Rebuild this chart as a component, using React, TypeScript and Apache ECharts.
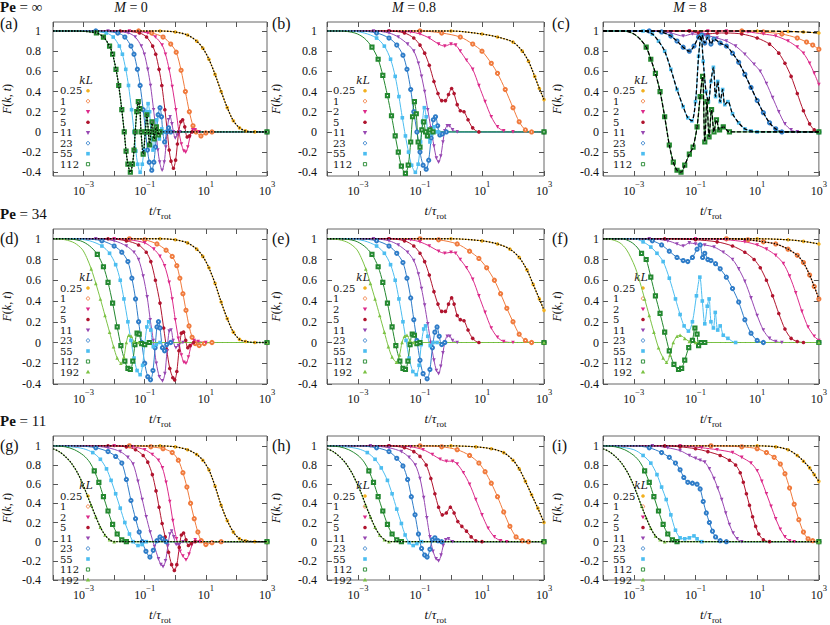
import React, { useEffect, useRef } from 'react';
import * as echarts from 'echarts';

type Pts = number[][];

// ---------- categories & series styles ----------
const kL = ['0.25', '1', '2', '5', '11', '23', '55', '112', '192'];
const colors = ['#f2b01e', '#f07a3c', '#dc2a8a', '#b0142e', '#9747b2', '#2e7cc8', '#4cbdf0', '#23882f', '#7cc244'];
const symbols = ['circle', 'emptyCircle', 'triangle', 'circle', 'triangle', 'emptyCircle', 'rect', 'emptyRect', 'triangle'];
const symbolRot = [0, 0, 180, 0, 180, 0, 0, 0, 0];

const rowTitles = ['∞', '34', '11'];
const colTitles = ['0', '0.8', '8'];
const letters = ['(a)', '(b)', '(c)', '(d)', '(e)', '(f)', '(g)', '(h)', '(i)'];
const yTickValues = [-0.4, -0.2, 0, 0.2, 0.4, 0.6, 0.8, 1];

// ---------- data: [log10(t/tau_rot), F(k,t)] ----------
// (a) Pe = inf, M = 0
const a025: Pts = [[-4,1],[-0.5,1],[0,0.99],[0.4,0.96],[0.7,0.9],[0.9,0.83],[1.1,0.72],[1.3,0.57],[1.5,0.4],[1.7,0.24],[1.9,0.11],[2.1,0.04],[2.3,0.01],[2.6,0],[3,0]];
const a1: Pts = [[-4,1],[-1.2,1],[-0.77,0.98],[-0.4,0.94],[-0.15,0.87],[0.03,0.79],[0.19,0.61],[0.33,0.4],[0.46,0.2],[0.58,0.06],[0.68,0],[0.84,-0.04],[1.0,-0.01],[1.2,0],[3,0]];
const a2: Pts = [[-4,1],[-1.5,1],[-0.9,0.98],[-0.65,0.94],[-0.43,0.86],[-0.32,0.77],[-0.2,0.62],[-0.1,0.45],[0.02,0.22],[0.12,0],[0.2,-0.12],[0.28,-0.19],[0.34,-0.2],[0.41,-0.15],[0.48,-0.05],[0.57,0.02],[0.65,0.02],[0.78,0],[3,0]];
const a5: Pts = [[-4,1],[-1.8,1],[-1.17,0.98],[-0.94,0.94],[-0.74,0.85],[-0.64,0.77],[-0.53,0.62],[-0.44,0.46],[-0.34,0.22],[-0.26,0],[-0.2,-0.18],[-0.14,-0.29],[-0.06,-0.36],[0.01,-0.28],[0.07,-0.12],[0.11,0],[0.18,0.1],[0.24,0.12],[0.31,0.05],[0.39,-0.05],[0.46,-0.04],[0.55,0],[3,0]];
const a11: Pts = [[-4,1],[-2.2,1],[-1.54,0.98],[-1.31,0.94],[-1.11,0.85],[-1.01,0.77],[-0.9,0.62],[-0.81,0.46],[-0.71,0.22],[-0.63,0],[-0.57,-0.18],[-0.51,-0.3],[-0.43,-0.38],[-0.36,-0.3],[-0.31,-0.15],[-0.27,0],[-0.22,0.12],[-0.17,0.15],[-0.11,0.08],[-0.06,0],[0,-0.06],[0.06,-0.03],[0.15,0],[3,0]];
const a23: Pts = [[-4,1],[-2.6,1],[-1.88,0.98],[-1.65,0.94],[-1.45,0.85],[-1.35,0.77],[-1.24,0.62],[-1.15,0.46],[-1.05,0.22],[-0.97,0],[-0.91,-0.18],[-0.85,-0.3],[-0.77,-0.38],[-0.7,-0.3],[-0.65,-0.15],[-0.61,0],[-0.56,0.17],[-0.5,0.24],[-0.45,0.15],[-0.41,0],[-0.35,-0.1],[-0.28,0],[-0.22,0.04],[-0.15,0],[3,0]];
const a55: Pts = [[-4,1],[-3,1],[-2.26,0.98],[-2.03,0.94],[-1.83,0.85],[-1.73,0.77],[-1.62,0.62],[-1.53,0.46],[-1.43,0.22],[-1.35,0],[-1.29,-0.19],[-1.23,-0.32],[-1.15,-0.4],[-1.08,-0.32],[-1.03,-0.18],[-0.99,0],[-0.94,0.2],[-0.89,0.28],[-0.84,0.2],[-0.8,0],[-0.73,-0.18],[-0.66,0],[-0.61,0.12],[-0.56,0],[-0.52,-0.07],[-0.48,0],[-0.44,0.03],[-0.38,0],[3,0]];
const a112: Pts = [[-4,1],[-3.3,1],[-2.58,0.98],[-2.35,0.94],[-2.15,0.85],[-2.05,0.77],[-1.94,0.62],[-1.85,0.46],[-1.75,0.22],[-1.67,0],[-1.61,-0.19],[-1.55,-0.32],[-1.47,-0.4],[-1.4,-0.32],[-1.35,-0.18],[-1.31,0],[-1.26,0.2],[-1.21,0.3],[-1.16,0.23],[-1.12,0],[-1.05,-0.22],[-0.98,0],[-0.93,0.17],[-0.88,0],[-0.84,-0.13],[-0.8,0],[-0.76,0.1],[-0.72,0],[-0.69,-0.07],[-0.66,0],[-0.62,0.05],[-0.58,0],[-0.55,-0.03],[-0.5,0],[3,0]];

// (b) Pe = inf, M = 0.8
const b025: Pts = [[-4,1],[0,1],[1,0.97],[1.5,0.94],[2,0.89],[2.3,0.8],[2.5,0.7],[2.7,0.55],[2.85,0.43],[3,0.32]];
const b1: Pts = [[-4,1],[-1,1],[-0.3,0.98],[0.3,0.94],[0.7,0.87],[1,0.8],[1.3,0.68],[1.5,0.58],[1.75,0.42],[2,0.24],[2.2,0.1],[2.4,0.02],[2.6,0],[3,0]];
const b2: Pts = [[-4,1],[-2,1],[-1.3,0.99],[-1,0.97],[-0.7,0.93],[-0.4,0.87],[-0.2,0.85],[0,0.87],[0.15,0.86],[0.3,0.8],[0.5,0.71],[0.7,0.62],[0.9,0.46],[1.1,0.3],[1.3,0.15],[1.5,0.05],[1.7,0.01],[2,0],[3,0]];
const b5: Pts = [[-4,1],[-2,1],[-1.5,0.98],[-1.2,0.93],[-1,0.86],[-0.85,0.78],[-0.7,0.66],[-0.55,0.5],[-0.42,0.38],[-0.3,0.31],[-0.18,0.31],[-0.08,0.37],[0.02,0.43],[0.1,0.38],[0.2,0.27],[0.3,0.21],[0.42,0.2],[0.55,0.12],[0.7,0.04],[0.9,0],[3,0]];
const b11: Pts = [[-4,1],[-2.5,1],[-2,0.98],[-1.7,0.94],[-1.4,0.87],[-1.2,0.8],[-1.05,0.68],[-0.95,0.55],[-0.85,0.4],[-0.75,0.22],[-0.65,0.04],[-0.55,-0.14],[-0.47,-0.26],[-0.4,-0.3],[-0.33,-0.24],[-0.26,-0.1],[-0.2,0.01],[-0.12,0.06],[-0.05,0.06],[0.05,0.02],[0.2,0],[3,0]];
const b23: Pts = [[-4,1],[-3,1],[-2.4,0.98],[-2,0.93],[-1.75,0.86],[-1.55,0.76],[-1.42,0.62],[-1.3,0.42],[-1.2,0.2],[-1.1,0],[-1,-0.2],[-0.9,-0.33],[-0.8,-0.37],[-0.72,-0.28],[-0.64,-0.06],[-0.57,0.12],[-0.5,0.15],[-0.43,0.06],[-0.36,-0.03],[-0.28,-0.02],[-0.15,0],[3,0]];
const b55: Pts = [[-4,1],[-3.3,1],[-2.8,0.98],[-2.4,0.93],[-2.15,0.85],[-1.95,0.72],[-1.8,0.55],[-1.68,0.35],[-1.57,0.14],[-1.47,-0.04],[-1.37,-0.2],[-1.27,-0.33],[-1.15,-0.4],[-1.06,-0.32],[-0.98,-0.1],[-0.92,0.1],[-0.86,0.24],[-0.8,0.15],[-0.74,-0.05],[-0.68,-0.1],[-0.62,-0.02],[-0.55,0.05],[-0.48,0],[-0.4,0],[3,0]];
const b112: Pts = [[-4,1],[-3.6,1],[-3.1,0.98],[-2.8,0.93],[-2.55,0.84],[-2.35,0.72],[-2.2,0.56],[-2.05,0.36],[-1.92,0.16],[-1.8,-0.04],[-1.7,-0.2],[-1.6,-0.34],[-1.47,-0.41],[-1.38,-0.33],[-1.3,-0.1],[-1.24,0.15],[-1.18,0.3],[-1.12,0.18],[-1.06,-0.1],[-1,-0.15],[-0.94,0.02],[-0.88,0.1],[-0.82,0],[-0.76,-0.04],[-0.68,0.02],[-0.58,0],[3,0]];

// (c) Pe = inf, M = 8
const c025: Pts = [[-4,1],[1,1],[2,0.995],[2.5,0.99],[3,0.98]];
const c1: Pts = [[-4,1],[0.5,1],[1.2,0.99],[1.8,0.97],[2.3,0.93],[2.6,0.89],[2.8,0.86],[3,0.82]];
const c2: Pts = [[-4,1],[-1.2,1],[-0.9,0.98],[-0.6,1],[0,1],[0.7,0.99],[1.2,0.97],[1.6,0.95],[2,0.9],[2.3,0.84],[2.5,0.78],[2.7,0.68],[2.85,0.58],[3,0.47]];
const c5: Pts = [[-4,1],[-1.2,1],[-0.9,0.98],[-0.6,0.97],[-0.3,0.98],[0,0.98],[0.5,0.97],[1,0.93],[1.4,0.87],[1.7,0.78],[1.9,0.68],[2.1,0.55],[2.3,0.38],[2.5,0.21],[2.7,0.08],[2.85,0.02],[3,0]];
const c11: Pts = [[-4,1],[-2.5,1],[-1.8,0.98],[-1.4,0.95],[-1.1,0.97],[-0.7,0.96],[-0.3,0.93],[0,0.9],[0.3,0.85],[0.6,0.77],[0.9,0.67],[1.1,0.6],[1.3,0.48],[1.5,0.34],[1.7,0.2],[1.9,0.08],[2.1,0.02],[2.3,0],[3,0]];
const c23: Pts = [[-4,1],[-2.5,1],[-2.1,0.99],[-1.8,0.95],[-1.6,0.9],[-1.4,0.84],[-1.2,0.8],[-1.05,0.85],[-0.9,0.94],[-0.8,0.96],[-0.7,0.88],[-0.6,0.94],[-0.5,0.87],[-0.4,0.92],[-0.2,0.88],[0,0.85],[0.2,0.78],[0.4,0.69],[0.6,0.57],[0.8,0.44],[1,0.31],[1.2,0.19],[1.4,0.09],[1.6,0.03],[1.8,0],[3,0]];
const c55: Pts = [[-4,1],[-2.7,1],[-2.4,0.97],[-2.2,0.9],[-2,0.8],[-1.8,0.62],[-1.6,0.42],[-1.4,0.25],[-1.25,0.14],[-1.12,0.11],[-1,0.3],[-0.9,0.75],[-0.82,0.95],[-0.75,0.7],[-0.66,0.4],[-0.58,0.3],[-0.5,0.5],[-0.42,0.64],[-0.35,0.35],[-0.28,0.5],[-0.2,0.3],[-0.12,0.42],[-0.05,0.27],[0.05,0.3],[0.2,0.18],[0.4,0.09],[0.6,0.03],[0.8,0.01],[1,0],[3,0]];
const c112: Pts = [[-4,1],[-3.3,1],[-3,0.97],[-2.8,0.92],[-2.6,0.84],[-2.45,0.72],[-2.3,0.58],[-2.15,0.4],[-2,0.15],[-1.85,-0.13],[-1.72,-0.3],[-1.6,-0.38],[-1.47,-0.4],[-1.35,-0.33],[-1.2,-0.22],[-1.08,-0.15],[-0.95,0.05],[-0.85,0.35],[-0.77,0.55],[-0.7,-0.1],[-0.63,0.3],[-0.56,-0.05],[-0.48,0.22],[-0.4,0],[-0.32,0.12],[-0.22,0.02],[-0.1,0.05],[0.1,0],[3,0]];

// (d) Pe = 34, M = 0
const d025: Pts = [[-4,1],[-0.5,1],[0,0.99],[0.4,0.96],[0.7,0.9],[0.9,0.83],[1.1,0.72],[1.3,0.57],[1.5,0.39],[1.7,0.23],[1.9,0.1],[2.1,0.03],[2.3,0.01],[2.6,0],[3,0]];
const d1: Pts = [[-4,1],[-1.5,1],[-1,0.99],[-0.6,0.95],[-0.3,0.89],[-0.1,0.83],[0.05,0.74],[0.15,0.62],[0.25,0.47],[0.35,0.31],[0.45,0.16],[0.55,0.05],[0.65,-0.01],[0.78,-0.03],[0.95,-0.01],[1.2,0],[3,0]];
const d2: Pts = [[-4,1],[-2,1],[-1.5,0.99],[-1,0.96],[-0.7,0.9],[-0.5,0.83],[-0.35,0.74],[-0.2,0.58],[-0.1,0.42],[0,0.22],[0.1,0.04],[0.2,-0.12],[0.28,-0.19],[0.35,-0.2],[0.43,-0.14],[0.52,-0.03],[0.62,0.02],[0.75,0.01],[1,0],[3,0]];
const d5: Pts = [[-4,1],[-2.2,1],[-1.6,0.98],[-1.2,0.94],[-0.95,0.87],[-0.8,0.78],[-0.65,0.6],[-0.5,0.38],[-0.38,0.14],[-0.28,-0.07],[-0.18,-0.25],[-0.08,-0.34],[-0.02,-0.36],[0.05,-0.28],[0.12,-0.08],[0.2,0.09],[0.27,0.1],[0.34,0.02],[0.41,-0.05],[0.48,-0.03],[0.6,0],[3,0]];
const d11: Pts = [[-4,1],[-2.6,1],[-2,0.98],[-1.6,0.93],[-1.35,0.87],[-1.2,0.8],[-1.05,0.64],[-0.92,0.44],[-0.82,0.22],[-0.72,0.02],[-0.62,-0.2],[-0.52,-0.33],[-0.42,-0.37],[-0.34,-0.3],[-0.27,-0.08],[-0.2,0.11],[-0.14,0.12],[-0.07,0.02],[0.02,-0.05],[0.1,-0.03],[0.25,0],[3,0]];
const d23: Pts = [[-4,1],[-3,1],[-2.4,0.98],[-2,0.93],[-1.75,0.87],[-1.55,0.78],[-1.42,0.62],[-1.3,0.42],[-1.2,0.2],[-1.1,0],[-1,-0.2],[-0.9,-0.33],[-0.81,-0.36],[-0.73,-0.27],[-0.66,-0.05],[-0.6,0.15],[-0.55,0.2],[-0.5,0.14],[-0.42,-0.05],[-0.35,-0.08],[-0.28,-0.02],[-0.15,0],[3,0]];
const d55: Pts = [[-4,1],[-3.3,1],[-2.8,0.98],[-2.4,0.93],[-2.15,0.86],[-1.95,0.75],[-1.8,0.6],[-1.68,0.42],[-1.55,0.2],[-1.45,0.02],[-1.35,-0.15],[-1.25,-0.27],[-1.15,-0.31],[-1.07,-0.22],[-1,-0.02],[-0.93,0.15],[-0.87,0.2],[-0.8,0.12],[-0.72,-0.04],[-0.62,-0.02],[-0.5,0],[3,0]];
const d112: Pts = [[-4,1],[-3.6,1],[-3.1,0.98],[-2.8,0.93],[-2.55,0.85],[-2.35,0.73],[-2.2,0.58],[-2.05,0.38],[-1.9,0.15],[-1.78,-0.03],[-1.65,-0.18],[-1.55,-0.25],[-1.47,-0.26],[-1.39,-0.18],[-1.32,-0.02],[-1.25,0.09],[-1.18,0.08],[-1.1,-0.01],[-1,-0.02],[-0.85,0],[3,0]];
const d192: Pts = [[-4,1],[-3.6,0.99],[-3.3,0.96],[-3.05,0.9],[-2.9,0.82],[-2.75,0.71],[-2.6,0.57],[-2.45,0.42],[-2.3,0.26],[-2.15,0.1],[-2.02,-0.04],[-1.9,-0.15],[-1.78,-0.2],[-1.68,-0.14],[-1.6,0],[-1.52,0.07],[-1.44,0.06],[-1.35,0.01],[-1.2,0],[3,0]];

// (e) Pe = 34, M = 0.8
const e025: Pts = [[-4,1],[0,1],[1,0.98],[1.5,0.95],[1.9,0.9],[2.2,0.82],[2.45,0.7],[2.65,0.56],[2.85,0.42],[3,0.31]];
const e1: Pts = [[-4,1],[-1,1],[-0.4,0.99],[0.2,0.95],[0.6,0.88],[0.9,0.81],[1.15,0.72],[1.4,0.6],[1.6,0.47],[1.8,0.33],[2,0.2],[2.2,0.08],[2.4,0.02],[2.6,0],[3,0]];
const e2: Pts = [[-4,1],[-2,1],[-1.3,0.99],[-1,0.97],[-0.7,0.93],[-0.4,0.88],[-0.2,0.86],[0,0.87],[0.15,0.86],[0.3,0.8],[0.5,0.72],[0.7,0.61],[0.9,0.45],[1.1,0.29],[1.3,0.14],[1.5,0.05],[1.7,0.01],[2,0],[3,0]];
const e5: Pts = [[-4,1],[-2,1],[-1.5,0.98],[-1.2,0.93],[-1,0.86],[-0.85,0.78],[-0.7,0.65],[-0.55,0.49],[-0.42,0.37],[-0.3,0.3],[-0.18,0.3],[-0.08,0.37],[0.02,0.43],[0.1,0.37],[0.2,0.26],[0.3,0.22],[0.42,0.21],[0.55,0.12],[0.7,0.04],[0.9,0],[3,0]];
const e11: Pts = [[-4,1],[-2.5,1],[-2,0.98],[-1.7,0.94],[-1.4,0.87],[-1.2,0.79],[-1.05,0.66],[-0.95,0.52],[-0.85,0.36],[-0.75,0.18],[-0.65,0],[-0.55,-0.17],[-0.47,-0.27],[-0.4,-0.3],[-0.33,-0.23],[-0.26,-0.1],[-0.2,0],[-0.12,0.06],[-0.04,0.06],[0.05,0.02],[0.2,0],[3,0]];
const e23: Pts = [[-4,1],[-3,1],[-2.4,0.98],[-2,0.93],[-1.75,0.86],[-1.55,0.77],[-1.42,0.62],[-1.3,0.43],[-1.2,0.22],[-1.1,0.02],[-1,-0.17],[-0.9,-0.3],[-0.77,-0.35],[-0.68,-0.26],[-0.6,-0.05],[-0.52,0.1],[-0.45,0.15],[-0.38,0.06],[-0.3,-0.02],[-0.2,0],[3,0]];
const e55: Pts = [[-4,1],[-3.3,1],[-2.8,0.98],[-2.4,0.93],[-2.15,0.86],[-1.95,0.75],[-1.8,0.6],[-1.68,0.42],[-1.55,0.2],[-1.45,0.02],[-1.35,-0.15],[-1.23,-0.28],[-1.12,-0.31],[-1.03,-0.22],[-0.96,-0.02],[-0.88,0.13],[-0.82,0.16],[-0.75,0.06],[-0.67,-0.03],[-0.58,0],[-0.45,0],[3,0]];
const e112: Pts = [[-4,1],[-3.6,1],[-3.1,0.98],[-2.8,0.93],[-2.55,0.85],[-2.35,0.73],[-2.2,0.58],[-2.05,0.38],[-1.9,0.15],[-1.78,-0.03],[-1.65,-0.18],[-1.55,-0.25],[-1.47,-0.26],[-1.39,-0.18],[-1.32,-0.02],[-1.25,0.08],[-1.18,0.07],[-1.1,-0.01],[-1,0],[3,0]];
const e192: Pts = [[-4,1],[-3.6,0.99],[-3.3,0.96],[-3.05,0.9],[-2.9,0.82],[-2.75,0.71],[-2.6,0.57],[-2.45,0.42],[-2.3,0.26],[-2.15,0.1],[-2.02,-0.04],[-1.9,-0.14],[-1.76,-0.19],[-1.66,-0.12],[-1.58,0],[-1.5,0.06],[-1.42,0.07],[-1.33,0.02],[-1.2,0],[3,0]];

// (f) Pe = 34, M = 8
const f025: Pts = [[-4,1],[1,1],[2,0.99],[2.5,0.975],[3,0.95]];
const f1: Pts = [[-4,1],[0,1],[0.7,0.99],[1.2,0.97],[1.6,0.95],[2,0.9],[2.3,0.84],[2.5,0.77],[2.7,0.65],[2.85,0.54],[3,0.42]];
const f2: Pts = [[-4,1],[-1,1],[0,0.99],[0.6,0.97],[1,0.94],[1.3,0.9],[1.6,0.84],[1.85,0.76],[2.05,0.64],[2.25,0.48],[2.45,0.3],[2.65,0.15],[2.85,0.06],[3,0.02]];
const f5: Pts = [[-4,1],[-2,1],[-1,0.99],[-0.3,0.97],[0.2,0.93],[0.6,0.87],[0.9,0.8],[1.1,0.72],[1.3,0.6],[1.5,0.45],[1.7,0.28],[1.9,0.13],[2.1,0.04],[2.3,0.01],[2.5,0],[3,0]];
const f11: Pts = [[-4,1],[-2.5,1],[-1.9,0.98],[-1.6,0.95],[-1.4,0.93],[-1.2,0.96],[-1,0.95],[-0.7,0.94],[-0.4,0.92],[-0.1,0.87],[0.2,0.8],[0.4,0.71],[0.6,0.59],[0.8,0.43],[1,0.26],[1.2,0.12],[1.4,0.04],[1.6,0.01],[1.8,0],[3,0]];
const f23: Pts = [[-4,1],[-2.8,1],[-2.4,0.98],[-2.1,0.94],[-1.85,0.88],[-1.6,0.82],[-1.4,0.79],[-1.25,0.78],[-1.1,0.82],[-0.95,0.9],[-0.85,0.94],[-0.77,0.82],[-0.7,0.86],[-0.6,0.8],[-0.5,0.79],[-0.35,0.76],[-0.2,0.71],[0,0.63],[0.2,0.52],[0.4,0.39],[0.6,0.22],[0.8,0.09],[1,0.02],[1.2,0],[3,0]];
const f55: Pts = [[-4,1],[-3,1],[-2.7,0.97],[-2.45,0.92],[-2.25,0.86],[-2.05,0.78],[-1.85,0.62],[-1.65,0.42],[-1.5,0.27],[-1.37,0.16],[-1.23,0.11],[-1.1,0.2],[-0.97,0.45],[-0.86,0.63],[-0.78,0.4],[-0.7,0.18],[-0.62,0.35],[-0.56,0.42],[-0.5,0.2],[-0.42,0.14],[-0.36,0.29],[-0.28,0.12],[-0.2,0.16],[-0.1,0.07],[0.05,0.04],[0.3,0],[3,0]];
const f112: Pts = [[-4,1],[-3.4,1],[-3.1,0.97],[-2.9,0.92],[-2.75,0.86],[-2.6,0.8],[-2.45,0.63],[-2.3,0.45],[-2.15,0.28],[-2,0.1],[-1.85,-0.08],[-1.7,-0.21],[-1.55,-0.26],[-1.45,-0.25],[-1.35,-0.17],[-1.22,-0.05],[-1.1,0.02],[-1.02,0.14],[-0.95,0.08],[-0.9,-0.03],[-0.82,0],[-0.7,0],[3,0]];
const f192: Pts = [[-4,1],[-3.7,0.99],[-3.45,0.96],[-3.25,0.9],[-3.1,0.82],[-2.95,0.72],[-2.8,0.58],[-2.65,0.42],[-2.5,0.26],[-2.35,0.1],[-2.2,-0.05],[-2.05,-0.15],[-1.94,-0.19],[-1.83,-0.12],[-1.72,0],[-1.6,0.06],[-1.5,0.07],[-1.35,0.04],[-1.2,0.01],[-1,0],[3,0]];

// (g) Pe = 11, M = 0
const g025: Pts = [[-4,1],[-0.5,1],[0,0.99],[0.4,0.96],[0.7,0.91],[0.9,0.85],[1.1,0.75],[1.3,0.58],[1.5,0.38],[1.7,0.22],[1.9,0.1],[2.1,0.03],[2.3,0.01],[2.6,0],[3,0]];
const g1: Pts = [[-4,1],[-1.5,1],[-0.8,0.99],[-0.4,0.97],[-0.1,0.93],[0.1,0.85],[0.25,0.72],[0.38,0.57],[0.5,0.4],[0.62,0.24],[0.74,0.1],[0.85,0.01],[1,-0.03],[1.2,-0.01],[1.5,0],[3,0]];
const g2: Pts = [[-4,1],[-2,1],[-1.4,0.99],[-1,0.96],[-0.75,0.91],[-0.55,0.85],[-0.42,0.77],[-0.3,0.62],[-0.18,0.42],[-0.08,0.22],[0.04,0.03],[0.16,-0.1],[0.25,-0.15],[0.35,-0.19],[0.45,-0.13],[0.55,-0.03],[0.65,0.02],[0.8,0],[3,0]];
const g5: Pts = [[-4,1],[-2.2,1],[-1.6,0.99],[-1.3,0.96],[-1.05,0.9],[-0.9,0.83],[-0.75,0.7],[-0.63,0.53],[-0.53,0.36],[-0.43,0.19],[-0.33,0.05],[-0.22,-0.11],[-0.12,-0.24],[-0.03,-0.3],[0.05,-0.24],[0.13,-0.06],[0.2,0.07],[0.27,0.09],[0.35,0.02],[0.43,-0.04],[0.52,-0.02],[0.65,0],[3,0]];
const g11: Pts = [[-4,1],[-2.8,1],[-2.2,0.98],[-1.8,0.94],[-1.55,0.88],[-1.38,0.81],[-1.22,0.63],[-1.08,0.44],[-0.95,0.26],[-0.82,0.1],[-0.68,-0.05],[-0.55,-0.18],[-0.47,-0.24],[-0.4,-0.26],[-0.32,-0.2],[-0.24,-0.04],[-0.18,0.08],[-0.12,0.11],[-0.05,0.05],[0.03,-0.03],[0.12,-0.03],[0.25,0],[3,0]];
const g23: Pts = [[-4,1],[-3.2,1],[-2.6,0.98],[-2.2,0.94],[-1.95,0.89],[-1.75,0.82],[-1.6,0.65],[-1.45,0.43],[-1.3,0.24],[-1.18,0.1],[-1.08,0],[-0.96,-0.1],[-0.83,-0.16],[-0.72,-0.09],[-0.6,0.01],[-0.5,0.05],[-0.42,0.03],[-0.3,0],[3,0]];
const g55: Pts = [[-4,1],[-3.4,0.99],[-3,0.97],[-2.7,0.93],[-2.45,0.86],[-2.25,0.76],[-2.1,0.64],[-1.95,0.5],[-1.8,0.35],[-1.65,0.2],[-1.5,0.08],[-1.38,0],[-1.22,-0.04],[-1.08,-0.03],[-0.95,0],[3,0]];
const g112: Pts = [[-4,1],[-3.6,0.99],[-3.3,0.96],[-3,0.9],[-2.8,0.83],[-2.65,0.74],[-2.5,0.62],[-2.35,0.47],[-2.2,0.32],[-2.05,0.18],[-1.9,0.08],[-1.75,0.02],[-1.6,0],[3,0]];
const g192: Pts = [[-4,0.97],[-3.8,0.94],[-3.6,0.89],[-3.4,0.82],[-3.2,0.72],[-3.05,0.62],[-2.9,0.5],[-2.75,0.38],[-2.6,0.26],[-2.45,0.15],[-2.3,0.07],[-2.15,0.02],[-2,0],[3,0]];

// (h) Pe = 11, M = 0.8
const h025: Pts = [[-4,1],[0,1],[0.8,0.99],[1.3,0.97],[1.7,0.93],[2,0.85],[2.2,0.76],[2.4,0.63],[2.6,0.49],[2.8,0.35],[3,0.2]];
const h1: Pts = [[-4,1],[-1,1],[-0.3,0.99],[0.2,0.96],[0.6,0.9],[0.9,0.82],[1.1,0.73],[1.3,0.61],[1.5,0.47],[1.7,0.31],[1.9,0.16],[2.1,0.05],[2.3,0.01],[2.5,0],[3,0]];
const h2: Pts = [[-4,1],[-2,1],[-1.3,0.99],[-0.9,0.96],[-0.6,0.91],[-0.35,0.86],[-0.15,0.84],[0.05,0.84],[0.2,0.81],[0.4,0.72],[0.6,0.6],[0.8,0.44],[1,0.28],[1.2,0.14],[1.4,0.05],[1.6,0.01],[1.8,0],[3,0]];
const h5: Pts = [[-4,1],[-2,1],[-1.5,0.98],[-1.2,0.94],[-1,0.89],[-0.8,0.8],[-0.65,0.66],[-0.52,0.5],[-0.4,0.36],[-0.28,0.28],[-0.15,0.3],[-0.02,0.36],[0.1,0.3],[0.22,0.21],[0.35,0.16],[0.5,0.11],[0.65,0.05],[0.8,0.01],[1,0],[3,0]];
const h11: Pts = [[-4,1],[-2.6,1],[-2,0.98],[-1.6,0.94],[-1.35,0.88],[-1.15,0.8],[-1,0.66],[-0.88,0.46],[-0.78,0.25],[-0.68,0.05],[-0.58,-0.1],[-0.48,-0.18],[-0.4,-0.2],[-0.32,-0.14],[-0.25,-0.04],[-0.17,0.02],[-0.08,0.03],[0.05,0],[3,0]];
const h23: Pts = [[-4,1],[-3,1],[-2.4,0.98],[-2,0.94],[-1.75,0.87],[-1.55,0.79],[-1.4,0.65],[-1.28,0.47],[-1.16,0.28],[-1.05,0.08],[-0.95,-0.07],[-0.85,-0.14],[-0.77,-0.16],[-0.68,-0.08],[-0.6,0.02],[-0.52,0.04],[-0.42,0.01],[-0.3,0],[3,0]];
const h55: Pts = [[-4,1],[-3.4,0.99],[-3,0.97],[-2.7,0.93],[-2.45,0.86],[-2.25,0.77],[-2.05,0.64],[-1.9,0.5],[-1.75,0.34],[-1.6,0.19],[-1.48,0.07],[-1.35,-0.01],[-1.22,-0.04],[-1.1,-0.02],[-0.95,0],[3,0]];
const h112: Pts = [[-4,1],[-3.6,0.99],[-3.3,0.96],[-3,0.9],[-2.8,0.83],[-2.65,0.74],[-2.5,0.62],[-2.35,0.47],[-2.2,0.32],[-2.05,0.18],[-1.9,0.08],[-1.75,0.02],[-1.6,0],[3,0]];
const h192: Pts = [[-4,0.97],[-3.8,0.94],[-3.6,0.89],[-3.4,0.82],[-3.2,0.72],[-3.05,0.62],[-2.9,0.51],[-2.75,0.38],[-2.6,0.26],[-2.45,0.15],[-2.3,0.07],[-2.15,0.02],[-2,0],[3,0]];

// (i) Pe = 11, M = 8
const i025: Pts = [[-4,1],[1,1],[1.6,0.99],[2,0.96],[2.3,0.9],[2.5,0.84],[2.7,0.77],[2.85,0.7],[3,0.63]];
const i1: Pts = [[-4,1],[-0.5,1],[0.5,0.99],[1,0.97],[1.3,0.93],[1.55,0.88],[1.75,0.81],[1.9,0.71],[2.05,0.56],[2.2,0.39],[2.35,0.23],[2.5,0.1],[2.65,0.03],[2.8,0.01],[3,0]];
const i2: Pts = [[-4,1],[-1.5,1],[-0.8,0.98],[-0.3,0.96],[0.2,0.93],[0.5,0.88],[0.8,0.82],[1,0.74],[1.15,0.63],[1.3,0.5],[1.45,0.37],[1.6,0.24],[1.75,0.13],[1.9,0.05],[2.05,0.01],[2.2,0],[3,0]];
const i5: Pts = [[-4,1],[-2,1],[-1.5,0.99],[-1,0.97],[-0.6,0.94],[-0.2,0.9],[0.1,0.85],[0.3,0.8],[0.45,0.72],[0.55,0.62],[0.65,0.5],[0.75,0.38],[0.85,0.26],[0.95,0.16],[1.05,0.08],[1.2,0.02],[1.4,0],[3,0]];
const i11: Pts = [[-4,1],[-2.4,1],[-1.9,0.98],[-1.5,0.95],[-1.2,0.9],[-1,0.87],[-0.85,0.85],[-0.7,0.83],[-0.55,0.76],[-0.4,0.66],[-0.28,0.56],[-0.15,0.44],[-0.02,0.3],[0.1,0.18],[0.22,0.09],[0.35,0.03],[0.5,0],[3,0]];
const i23: Pts = [[-4,1],[-3,1],[-2.5,0.98],[-2.1,0.93],[-1.85,0.88],[-1.65,0.82],[-1.5,0.75],[-1.38,0.67],[-1.25,0.62],[-1.1,0.61],[-0.95,0.6],[-0.85,0.55],[-0.75,0.42],[-0.65,0.3],[-0.55,0.2],[-0.45,0.11],[-0.35,0.05],[-0.2,0.01],[0,0],[3,0]];
const i55: Pts = [[-4,1],[-3.5,0.99],[-3,0.96],[-2.7,0.9],[-2.45,0.82],[-2.25,0.7],[-2.1,0.57],[-1.95,0.44],[-1.8,0.28],[-1.65,0.12],[-1.5,0.04],[-1.35,0.03],[-1.2,0.04],[-1.05,0.06],[-0.95,0.03],[-0.8,0],[3,0]];
const i112: Pts = [[-4,1],[-3.6,0.99],[-3.3,0.96],[-3,0.9],[-2.8,0.83],[-2.65,0.74],[-2.5,0.62],[-2.35,0.47],[-2.2,0.32],[-2.05,0.18],[-1.9,0.08],[-1.75,0.02],[-1.6,0],[3,0]];
const i192: Pts = [[-4,0.97],[-3.8,0.94],[-3.6,0.89],[-3.4,0.82],[-3.2,0.72],[-3.05,0.62],[-2.9,0.5],[-2.75,0.37],[-2.6,0.25],[-2.45,0.14],[-2.3,0.06],[-2.15,0.02],[-2,0],[3,0]];

const panels = [
  { curves: [a025, a1, a2, a5, a11, a23, a55, a112], theory: [0, 7], dashed: false },
  { curves: [b025, b1, b2, b5, b11, b23, b55, b112], theory: [0], dashed: false },
  { curves: [c025, c1, c2, c5, c11, c23, c55, c112], theory: [0, 5, 6, 7], dashed: true },
  { curves: [d025, d1, d2, d5, d11, d23, d55, d112, d192], theory: [0], dashed: false },
  { curves: [e025, e1, e2, e5, e11, e23, e55, e112, e192], theory: [0], dashed: false },
  { curves: [f025, f1, f2, f5, f11, f23, f55, f112, f192], theory: [0, 1], dashed: false },
  { curves: [g025, g1, g2, g5, g11, g23, g55, g112, g192], theory: [0, 8], dashed: false },
  { curves: [h025, h1, h2, h5, h11, h23, h55, h112, h192], theory: [0, 8], dashed: false },
  { curves: [i025, i1, i2, i5, i11, i23, i55, i112, i192], theory: [0, 8], dashed: false },
];

// ---------- layout ----------
const FONT = '"Liberation Serif", "DejaVu Serif", serif';
const LEGEND_FONT = '"DejaVu Serif", "Liberation Serif", serif';
const colLeft = [50, 327, 603];
const gridW = 217;
const rowTop = [22, 229, 436];
const rowH = [154, 155, 156];
const rowMin = [-0.437, -0.4, -0.4];
const rowMax = [1.089, 1.094, 1.103];
const yLabelMargin = [12, 10, 4];
const yNameGap = [40, 45, 40];
const legendTextDx = [10, 6, 10];
const legendMarkDx = [38, 38, 40];
const legendY0 = [90.7, 288, 496];
const legendStep = 10.5;
const rowTitleY = [7, 214, 421];
const letterY = [23, 238, 445];
const letterX = [0, 272, 552];
const colTitleX = [131, 414, 690];

function markerShape(k: number, x: number, y: number) {
  const c = colors[k];
  const s = symbols[k];
  if (s === 'circle') return { type: 'circle', shape: { cx: x, cy: y, r: 1.8 }, style: { fill: c } };
  if (s === 'emptyCircle') return { type: 'circle', shape: { cx: x, cy: y, r: 1.6 }, style: { fill: '#fff', stroke: c, lineWidth: 0.9 } };
  if (s === 'rect') return { type: 'rect', shape: { x: x - 1.8, y: y - 1.8, width: 3.6, height: 3.6 }, style: { fill: c } };
  if (s === 'emptyRect') return { type: 'rect', shape: { x: x - 1.6, y: y - 1.6, width: 3.2, height: 3.2 }, style: { fill: '#fff', stroke: c, lineWidth: 0.9 } };
  const pts = symbolRot[k] === 180
    ? [[x - 2.2, y - 1.6], [x + 2.2, y - 1.6], [x, y + 2.2]]
    : [[x - 2.2, y + 1.6], [x + 2.2, y + 1.6], [x, y - 2.2]];
  return { type: 'polygon', shape: { points: pts }, style: { fill: c } };
}

function buildOption() {
  const grid: any[] = [];
  const xAxis: any[] = [];
  const yAxis: any[] = [];
  const series: any[] = [];
  const graphic: any[] = [];
  const tickStyle = { color: '#555', width: 1 };
  const noLine = { show: false, onZero: false };

  panels.forEach((pn, p) => {
    const r = Math.floor(p / 3);
    const c = p % 3;
    grid.push({ left: colLeft[c], top: rowTop[r], width: gridW, height: rowH[r], show: true, borderColor: '#666', borderWidth: 1, backgroundColor: 'transparent' });
    xAxis.push({
      gridIndex: p, type: 'value', position: 'bottom', min: -4, max: 3, interval: 1,
      axisLine: noLine, splitLine: { show: false },
      axisTick: { inside: true, length: 5, lineStyle: tickStyle },
      axisLabel: {
        margin: 3, showMaxLabel: true, showMinLabel: true, color: '#111', fontFamily: FONT,
        formatter: (v: number) => {
          const e = Math.round(v);
          if (e % 2 === 0) return '';
          return `{b|10}{s|${e < 0 ? '−' : ''}${Math.abs(e)}}`;
        },
        rich: {
          b: { fontSize: 12, fontFamily: FONT, color: '#111', lineHeight: 18, verticalAlign: 'bottom' },
          s: { fontSize: 8.5, fontFamily: FONT, color: '#111', lineHeight: 9, verticalAlign: 'top' },
        },
      },
      name: '{i|t}{n|/}{i|τ}{sub|rot}', nameLocation: 'middle', nameGap: 28,
      nameTextStyle: {
        fontFamily: FONT, color: '#111',
        rich: {
          i: { fontSize: 13, fontStyle: 'italic', fontFamily: FONT, color: '#111', lineHeight: 16, verticalAlign: 'top' },
          n: { fontSize: 13, fontFamily: FONT, color: '#111', lineHeight: 16, verticalAlign: 'top' },
          sub: { fontSize: 9, fontFamily: FONT, color: '#111', lineHeight: 9, verticalAlign: 'bottom' },
        },
      },
    });
    xAxis.push({
      gridIndex: p, type: 'value', position: 'top', min: -4, max: 3, interval: 1,
      axisLine: noLine, splitLine: { show: false }, axisLabel: { show: false },
      axisTick: { inside: true, length: 5, lineStyle: tickStyle },
    });
    yAxis.push({
      gridIndex: p, type: 'value', position: 'left', min: rowMin[r], max: rowMax[r],
      axisLine: noLine, splitLine: { show: false },
      axisTick: { inside: true, length: 5, lineStyle: tickStyle, customValues: yTickValues },
      axisLabel: {
        customValues: yTickValues, margin: yLabelMargin[c], fontSize: 12, fontFamily: FONT, color: '#111',
        formatter: (v: number) => (Math.abs(v) < 1e-9 ? '0' : Math.abs(v - 1) < 1e-9 ? '1' : v.toFixed(1)),
      },
      name: '{i|F}{n|(}{i|k}{n|, }{i|t}{n|)}', nameLocation: 'middle', nameGap: yNameGap[c], nameRotate: 90,
      nameTextStyle: {
        fontFamily: FONT, color: '#111',
        rich: {
          i: { fontSize: 12, fontStyle: 'italic', fontFamily: FONT, color: '#111' },
          n: { fontSize: 12, fontFamily: FONT, color: '#111' },
        },
      },
    });
    yAxis.push({
      gridIndex: p, type: 'value', position: 'right', min: rowMin[r], max: rowMax[r],
      axisLine: noLine, splitLine: { show: false }, axisLabel: { show: false },
      axisTick: { inside: true, length: 5, lineStyle: tickStyle, customValues: yTickValues },
    });

    pn.curves.forEach((pts, k) => {
      const empty = symbols[k].startsWith('empty');
      series.push({
        type: 'line', xAxisIndex: 2 * p, yAxisIndex: 2 * p,
        data: pts.map(([x, y]) => (x < -2.75 ? { value: [x, y], symbol: 'none' } : [x, y])),
        smooth: 0.3, symbol: symbols[k], symbolSize: empty ? 3.2 : 3.6, symbolRotate: symbolRot[k],
        showSymbol: true, showAllSymbol: true,
        lineStyle: { color: colors[k], width: 1 },
        itemStyle: { color: colors[k], borderColor: colors[k], borderWidth: empty ? 0.9 : 0 },
        z: 2, silent: true,
      });
    });
    pn.theory.forEach((k) => {
      series.push({
        type: 'line', xAxisIndex: 2 * p, yAxisIndex: 2 * p, data: pn.curves[k],
        smooth: 0.3, symbol: 'none',
        lineStyle: { color: '#000', width: 1.3, type: pn.dashed ? [4, 2] : [1.5, 1.5] },
        z: 4, silent: true,
      });
    });

    // legend
    const tx = colLeft[c] + legendTextDx[c];
    const mx = colLeft[c] + legendMarkDx[c];
    graphic.push({
      type: 'text', x: mx - 2, y: legendY0[r] - 11,
      style: { text: '{i|kL}', align: 'center', verticalAlign: 'middle', rich: { i: { fontSize: 10.5, lineHeight: 10, fontStyle: 'italic', fontFamily: LEGEND_FONT, fill: '#111' } } },
    });
    pn.curves.forEach((_, k) => {
      const y = legendY0[r] + k * legendStep;
      graphic.push({ type: 'text', x: tx, y, style: { text: kL[k], fontSize: 10, lineHeight: 10, fontFamily: LEGEND_FONT, fill: '#111', align: 'left', verticalAlign: 'middle' } });
      graphic.push(markerShape(k, mx, y));
    });

    graphic.push({ type: 'text', x: letterX[c], y: letterY[r], style: { text: letters[p], fontSize: 16, fontFamily: FONT, fill: '#111', align: 'left', verticalAlign: 'middle' } });
  });

  rowTitles.forEach((t, r) => {
    graphic.push({
      type: 'text', x: 0, y: rowTitleY[r],
      style: { text: `{b|Pe} = ${t}`, fontSize: 15, fontFamily: FONT, fill: '#111', align: 'left', verticalAlign: 'middle', rich: { b: { fontSize: 15, fontWeight: 'bold', fontFamily: FONT, fill: '#111' } } },
    });
  });
  colTitles.forEach((t, c) => {
    graphic.push({
      type: 'text', x: colTitleX[c], y: 7,
      style: { text: `{i|M} = ${t}`, fontSize: 14, fontFamily: FONT, fill: '#111', align: 'center', verticalAlign: 'middle', rich: { i: { fontSize: 14, fontStyle: 'italic', fontFamily: FONT, fill: '#111' } } },
    });
  });

  return { animation: false, backgroundColor: '#fff', grid, xAxis, yAxis, series, graphic };
}

export default function App() {
  const ref = useRef<HTMLDivElement>(null);
  useEffect(() => {
    document.body.style.margin = '0';
    const chart = echarts.init(ref.current!, null, { renderer: 'svg' });
    chart.setOption(buildOption() as any);
    return () => chart.dispose();
  }, []);
  return <div ref={ref} style={{ position: 'absolute', left: 0, top: 0, width: 830, height: 625 }} />;
}
